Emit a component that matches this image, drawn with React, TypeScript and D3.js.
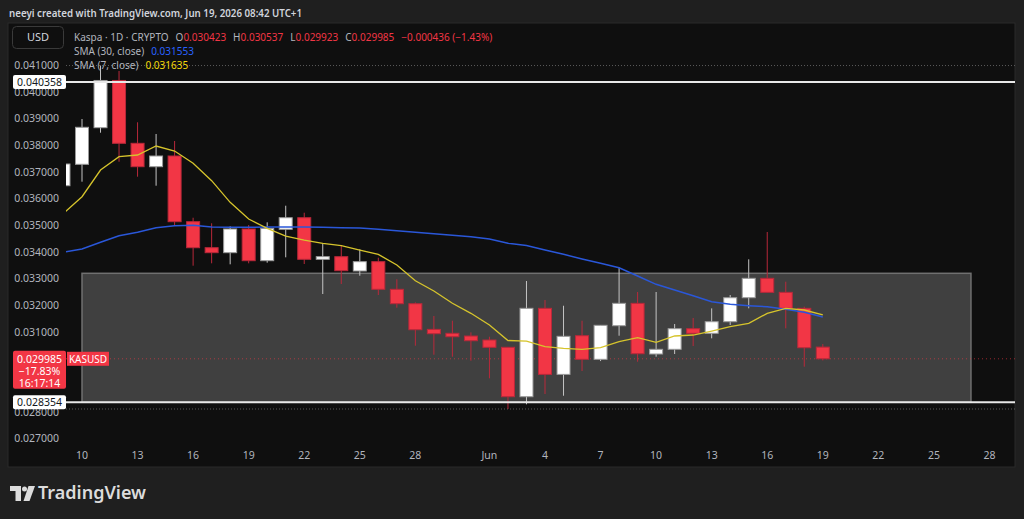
import React from "react";
import * as d3 from "d3";

// daily candles, May 9 -> Jun 19 2026
const startDate = "2026-05-09";
const opens = [
  0.036474, 0.037277, 0.038649, 0.04042, 0.038064, 0.037187, 0.037588, 0.035125,
  0.03415, 0.033963, 0.034851, 0.033663, 0.034839, 0.035274, 0.033715, 0.033813,
  0.033276, 0.033626, 0.03259, 0.03205, 0.031088, 0.03094, 0.030838, 0.030689,
  0.030415, 0.028563, 0.031877, 0.0294, 0.03085, 0.029965, 0.031225, 0.032064,
  0.030164, 0.03034, 0.031113, 0.03094, 0.031375, 0.032275, 0.033002, 0.032476,
  0.031877, 0.030423,
];
const highs = [
  0.037288, 0.038975, 0.04098, 0.040775, 0.038852, 0.038413, 0.03815, 0.035274,
  0.035065, 0.03495, 0.035, 0.035102, 0.035724, 0.035462, 0.034315, 0.034251,
  0.034089, 0.033775, 0.032965, 0.0321, 0.031589, 0.031412, 0.030977, 0.030812,
  0.03043, 0.032901, 0.032189, 0.031974, 0.031412, 0.03125, 0.033414, 0.032489,
  0.032489, 0.031289, 0.031514, 0.031875, 0.032376, 0.033714, 0.034738, 0.032875,
  0.031939, 0.030537,
];
const lows = [
  0.036474, 0.036625, 0.038462, 0.037374, 0.036812, 0.036474, 0.035, 0.033475,
  0.033565, 0.033527, 0.033565, 0.033588, 0.033789, 0.033538, 0.032414, 0.032789,
  0.0331, 0.032376, 0.0319, 0.030475, 0.030138, 0.030063, 0.029913, 0.029252,
  0.028102, 0.028278, 0.028664, 0.0286, 0.029527, 0.0299, 0.03085, 0.029875,
  0.030063, 0.030164, 0.030464, 0.030752, 0.031251, 0.031877, 0.032476, 0.031127,
  0.029688, 0.029923,
];
const closes = [
  0.037288, 0.038664, 0.04042, 0.038064, 0.037187, 0.037588, 0.035125, 0.03415,
  0.033963, 0.034851, 0.033663, 0.034876, 0.035274, 0.033715, 0.033813, 0.033288,
  0.033626, 0.03259, 0.03205, 0.031075, 0.030925, 0.030812, 0.030662, 0.030415,
  0.028563, 0.031877, 0.0294, 0.030827, 0.029965, 0.03124, 0.032064, 0.030175,
  0.03034, 0.031113, 0.03094, 0.031375, 0.032275, 0.033002, 0.032476, 0.031877,
  0.0304, 0.029985,
];
const sma7 = [
  0.035439, 0.036062, 0.037063, 0.037562, 0.037625, 0.037963, 0.037775, 0.037314,
  0.036662, 0.035852, 0.035226, 0.034877, 0.034588, 0.034438, 0.034315, 0.034225,
  0.034063, 0.033902, 0.033501, 0.032912, 0.032526, 0.032065, 0.03169, 0.031251,
  0.03067, 0.030651, 0.030438, 0.030377, 0.03034, 0.0304, 0.030625, 0.030775,
  0.030603, 0.030839, 0.030876, 0.031026, 0.031187, 0.031315, 0.03169, 0.031877,
  0.031814, 0.031635,
];
const sma30 = [
  0.033977, 0.034101, 0.034352, 0.0346, 0.034727, 0.0349, 0.034974, 0.034989,
  0.034926, 0.034914, 0.034914, 0.034926, 0.034926, 0.034926, 0.034914, 0.0349,
  0.034888, 0.034839, 0.034787, 0.034727, 0.034675, 0.034615, 0.034562, 0.034476,
  0.034315, 0.034233, 0.034063, 0.033902, 0.033726, 0.033565, 0.0334, 0.033088,
  0.032777, 0.032563, 0.03235, 0.032125, 0.032027, 0.031975, 0.031937, 0.03184,
  0.031727, 0.031553,
];

const priceTicks = d3.range(0.027, 0.04101, 0.001);
const dateTicks = [
  "2026-05-10", "2026-05-13", "2026-05-16", "2026-05-19", "2026-05-22", "2026-05-25",
  "2026-05-28", "2026-06-01", "2026-06-04", "2026-06-07", "2026-06-10", "2026-06-13",
  "2026-06-16", "2026-06-19", "2026-06-22", "2026-06-25", "2026-06-28",
];
const hLines = [0.040358, 0.028354];
const boxTop = 0.03319;
const boxBottom = 0.028354;
const boxStart = "2026-05-10";
const boxEnd = "2026-06-27";
const lastPrice = 0.029985;
const visHigh = 0.04098;
const visLow = 0.028102;

const parse = d3.utcParse("%Y-%m-%d");
const day0 = parse(startDate) as Date;
const dates = closes.map((_, i) => d3.utcDay.offset(day0, i));

const RED = "#f23645";
const GREY = "#b2b5be";
const FONT = "'Noto Sans', 'DejaVu Sans', sans-serif";

export default function App() {
  const W = 1024, H = 519;
  const pane = { left: 66, right: 1015, top: 24, bottom: 445 };
  const x = d3
    .scaleUtc()
    .domain([parse("2026-05-10") as Date, parse("2026-06-19") as Date])
    .range([82, 822.8]);
  const y = d3.scaleLinear().domain([0.041, 0.027]).range([65, 438.4]);
  const bw = 14;

  const line = d3
    .line<number>()
    .x((_, i) => x(dates[i]))
    .y((d) => y(d));

  const fmt = d3.format(".6f");
  // price labels that sit fully under the last-price tag are not drawn
  const tagTop = y(lastPrice) - 8, tagBot = y(lastPrice) + 30;
  const shownTicks = priceTicks.filter((t) => y(t) < tagTop - 2 || y(t) > tagBot + 2);

  return (
    <svg
      width={W}
      height={H}
      style={{ position: "fixed", left: 0, top: 0, fontFamily: FONT }}
    >
      <defs>
        <clipPath id="pane">
          <rect x={pane.left} y={pane.top} width={pane.right - pane.left} height={pane.bottom - pane.top} />
        </clipPath>
      </defs>
      <rect width={W} height={H} fill="#1f1f1f" />
      <rect x={8} y={23} width={1007} height={444} fill="#0f0f0f" stroke="#2b2b2b" />

      <text x={9} y={17} fontSize={11} fontWeight={600} fill="#d1d4dc" textLength={293} lengthAdjust="spacingAndGlyphs">
        neeyi created with TradingView.com, Jun 19, 2026 08:42 UTC+1
      </text>

      {/* price axis */}
      {shownTicks.map((t) => (
        <text key={t} x={59} y={y(t) + 4} textAnchor="end" fontSize={10.5} fill={GREY}>
          {fmt(t)}
        </text>
      ))}

      {/* date axis */}
      {dateTicks.map((d) => {
        const dt = parse(d) as Date;
        const lbl = dt.getUTCDate() === 1 ? "Jun" : String(dt.getUTCDate());
        return (
          <text key={d} x={x(dt)} y={459} textAnchor="middle" fontSize={10.5} fill={GREY}>
            {lbl}
          </text>
        );
      })}

      <g clipPath="url(#pane)">
        {/* range box */}
        <rect
          x={x(parse(boxStart) as Date)}
          y={y(boxTop)}
          width={x(parse(boxEnd) as Date) - x(parse(boxStart) as Date)}
          height={y(boxBottom) - y(boxTop)}
          fill="#404040"
          stroke="#707070"
          strokeWidth={1.5}
        />
        {[visHigh, visLow].map((v) => (
          <line key={v} x1={pane.left} x2={pane.right} y1={y(v)} y2={y(v)} stroke="#5a5a5a" strokeDasharray="1,2" />
        ))}
        <line x1={pane.left} x2={pane.right} y1={y(lastPrice)} y2={y(lastPrice)} stroke={RED} strokeOpacity={0.6} strokeDasharray="1,3" />

        {/* candles */}
        {dates.map((d, i) => {
          const up = closes[i] >= opens[i];
          const cx = x(d);
          const top = y(Math.max(opens[i], closes[i]));
          const bot = y(Math.min(opens[i], closes[i]));
          return (
            <g key={i}>
              <line
                x1={cx} x2={cx} y1={y(highs[i])} y2={y(lows[i])}
                stroke={up ? "#c4c4c4" : "#b8283a"} strokeWidth={1}
              />
              <rect
                x={cx - bw / 2 + 0.5} y={top} width={bw - 1} height={Math.max(1.5, bot - top)}
                fill={up ? "#ffffff" : RED}
                stroke={up ? "#9a9a9a" : "#b8283a"} strokeWidth={1}
              />
            </g>
          );
        })}

        <path d={line(sma30) ?? ""} fill="none" stroke="#2a57d9" strokeWidth={1.5} />
        <path d={line(sma7) ?? ""} fill="none" stroke="#d6c42c" strokeWidth={1.3} />

        {hLines.map((v) => (
          <line key={v} x1={pane.left} x2={pane.right} y1={y(v)} y2={y(v)} stroke="#e8e8e8" strokeWidth={2} />
        ))}
      </g>

      {/* horizontal line labels */}
      {hLines.map((v) => (
        <g key={v}>
          <rect x={13} y={y(v) - 7} width={53} height={14} rx={2} fill="#ffffff" />
          <text x={39.5} y={y(v) + 4} textAnchor="middle" fontSize={10.5} fill="#131722">{fmt(v)}</text>
        </g>
      ))}

      {/* last price tag */}
      <rect x={13} y={tagTop} width={53} height={tagBot - tagTop} rx={2} fill={RED} />
      <text x={39.5} y={y(lastPrice) + 4} textAnchor="middle" fontSize={10.5} fill="#ffffff">{fmt(lastPrice)}</text>
      <text x={39.5} y={y(lastPrice) + 16} textAnchor="middle" fontSize={10.5} fill="#ffffff">−17.83%</text>
      <text x={39.5} y={y(lastPrice) + 28} textAnchor="middle" fontSize={10.5} fill="#ffffff">16:17:14</text>
      <rect x={67} y={y(lastPrice) - 7} width={42} height={14} fill={RED} />
      <text x={88} y={y(lastPrice) + 4} textAnchor="middle" fontSize={10} fill="#ffffff">KASUSD</text>

      {/* legend */}
      <rect x={12.5} y={26.5} width={51} height={22} rx={4} fill="#0f0f0f" stroke="#3a3a3a" />
      <text x={38} y={41} textAnchor="middle" fontSize={11} fill="#d1d4dc">USD</text>
      <text x={74} y={41} fontSize={10} fill={GREY}>
        <tspan>Kaspa · 1D · CRYPTO</tspan>
        <tspan dx={7}>O</tspan>
        <tspan fill={RED}>0.030423</tspan>
        <tspan dx={7}>H</tspan>
        <tspan fill={RED}>0.030537</tspan>
        <tspan dx={7}>L</tspan>
        <tspan fill={RED}>0.029923</tspan>
        <tspan dx={7}>C</tspan>
        <tspan fill={RED}>0.029985</tspan>
        <tspan dx={7} fill={RED}>−0.000436 (−1.43%)</tspan>
      </text>
      <text x={74} y={55} fontSize={10} fill={GREY}>
        <tspan>SMA (30, close)</tspan>
        <tspan dx={7} fill="#2962ff">0.031553</tspan>
      </text>
      <text x={74} y={69} fontSize={10} fill={GREY}>
        <tspan>SMA (7, close)</tspan>
        <tspan dx={7} fill="#f5d90a">0.031635</tspan>
      </text>

      {/* logo */}
      <g fill="#dcdcdc">
        <path d="M10 486 H21 V501 H15.5 V491 H10 Z" />
        <circle cx={24.5} cy={489} r={2.5} />
        <path d="M28.5 486 H35 L29.5 501 H23.5 Z" />
      </g>
      <text x={38} y={499} fontSize={18} fontWeight={600} fill="#dcdcdc" textLength={108} lengthAdjust="spacingAndGlyphs">
        TradingView
      </text>
    </svg>
  );
}
